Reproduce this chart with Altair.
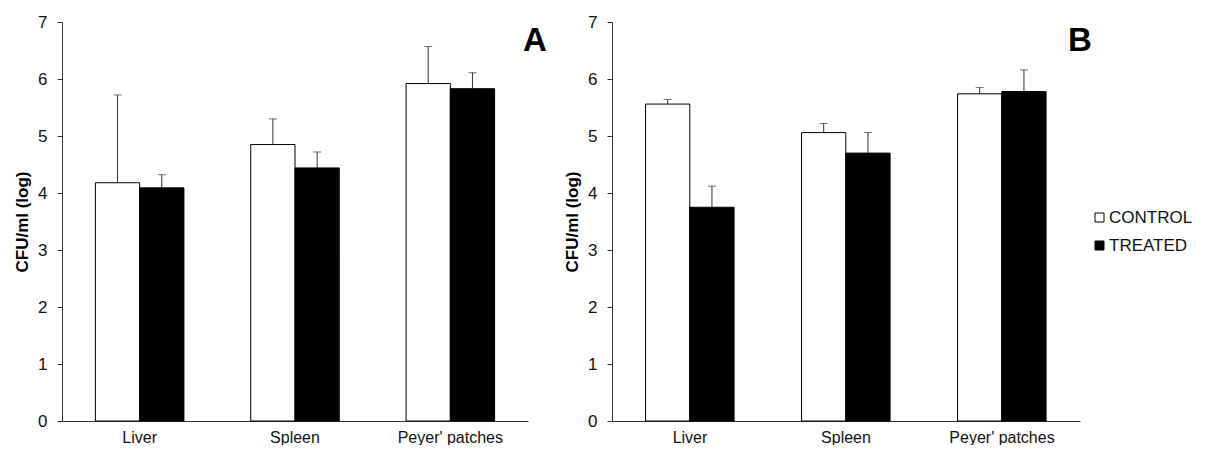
import altair as alt
import pandas as pd

organs = ["Liver", "Spleen", "Peyer' patches"]
groups = ["CONTROL", "TREATED"]

a_control = [4.18, 4.85, 5.92]
a_control_err = [1.54, 0.45, 0.65]
a_treated = [4.09, 4.44, 5.83]
a_treated_err = [0.23, 0.28, 0.28]

b_control = [5.56, 5.06, 5.74]
b_control_err = [0.08, 0.16, 0.11]
b_treated = [3.75, 4.70, 5.78]
b_treated_err = [0.37, 0.36, 0.38]

FONT = "Liberation Sans"


def make_df(ctrl, ctrl_err, trt, trt_err):
    rows = []
    for i, o in enumerate(organs):
        rows.append({"organ": o, "group": "CONTROL", "value": ctrl[i], "top": ctrl[i] + ctrl_err[i]})
        rows.append({"organ": o, "group": "TREATED", "value": trt[i], "top": trt[i] + trt_err[i]})
    return pd.DataFrame(rows)


def panel(df, letter, width, letter_x):
    base = alt.Chart(df)
    x = alt.X("organ:N", sort=organs,
              scale=alt.Scale(paddingInner=0.43, paddingOuter=0.215),
              axis=alt.Axis(title=None, labelAngle=0, ticks=False, labelPadding=8,
                            labelFontSize=16, labelFont=FONT, labelColor="#111",
                            domainColor="#333"))
    xo = alt.XOffset("group:N", sort=groups, scale=alt.Scale(paddingInner=0, paddingOuter=0))
    y = alt.Y("value:Q", scale=alt.Scale(domain=[0, 7], nice=False),
              axis=alt.Axis(title="CFU/ml (log)", values=list(range(8)), format="d", grid=False,
                            tickSize=5, tickColor="#333", domainColor="#333",
                            labelFontSize=17, labelFont=FONT, labelColor="#111", labelPadding=10,
                            titleFont=FONT, titleFontSize=17, titleFontWeight="bold",
                            titleColor="#000", titlePadding=6))
    bars = base.mark_bar(stroke="black", strokeWidth=1).encode(
        x=x, xOffset=xo, y=y,
        fill=alt.Fill("group:N", sort=groups,
                      scale=alt.Scale(domain=groups, range=["white", "black"]),
                      legend=alt.Legend(title=None, orient="none", legendX=1029, legendY=187,
                                        symbolType="square", symbolSize=81,
                                        symbolStrokeColor="black", symbolStrokeWidth=1,
                                        labelFontSize=17, labelFont=FONT, labelColor="#111",
                                        labelOffset=1, rowPadding=10)),
    )
    rule = base.mark_rule(color="#333", strokeWidth=1).encode(
        x=x, xOffset=xo, y="value:Q", y2="top:Q")
    cap = base.mark_tick(color="#333", thickness=1, size=8).encode(
        x=x, xOffset=xo, y="top:Q")
    lab = alt.Chart(pd.DataFrame({"t": [letter]})).mark_text(
        font=FONT, fontSize=33, fontWeight="bold", align="center", baseline="alphabetic",
        color="black").encode(text="t:N", x=alt.value(letter_x), y=alt.value(29))
    return alt.layer(rule, cap, bars, lab).properties(width=width, height=399)


chart_a = panel(make_df(a_control, a_control_err, a_treated, a_treated_err), "A", 466, 473)
chart_b = panel(make_df(b_control, b_control_err, b_treated, b_treated_err), "B", 468, 468)

chart = alt.hconcat(chart_a, chart_b, spacing=16).configure(
    background="white",
    padding={"left": 5, "top": 5, "right": 0, "bottom": 0},
).configure_view(stroke=None)

chart.save("out.html", embed_options={"renderer": "svg", "actions": False})
